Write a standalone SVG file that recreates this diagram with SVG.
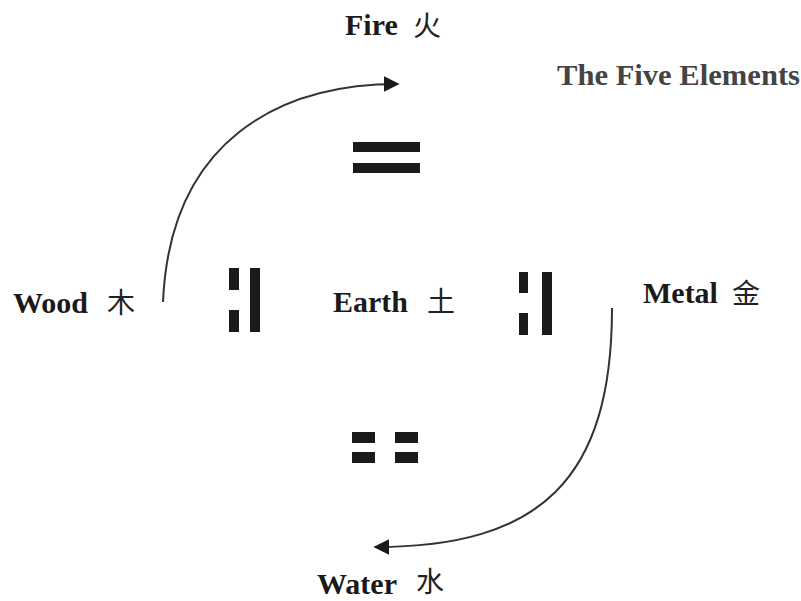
<svg xmlns="http://www.w3.org/2000/svg" width="801" height="601" viewBox="0 0 801 601">
<style>
.lbl{font-family:"Liberation Serif","Times New Roman",serif;font-weight:bold;font-size:30px;fill:#1a1a1a}
.cjk{font-family:"Noto Sans CJK SC","Noto Sans CJK JP",sans-serif;font-size:28px;fill:#222}
.title{font-family:"Liberation Serif","Times New Roman",serif;font-weight:bold;font-size:30px;fill:#444}
.bar{fill:#1a1a1a}
.conn{fill:none;stroke:#333;stroke-width:2}
</style>
<defs>
<marker id="arr" viewBox="0 0 10 10" refX="9" refY="5" markerWidth="8" markerHeight="8" markerUnits="strokeWidth" orient="auto">
<path d="M0,0 L10,5 L0,10 Z" fill="#1a1a1a"/>
</marker>
</defs>
<rect width="801" height="601" fill="#fff"/>
<text class="title" x="557" y="85" textLength="243" lengthAdjust="spacingAndGlyphs">The Five Elements</text>
<g id="connectors">
<path class="conn" d="M163,302 C170,140 280,84 398,84" marker-end="url(#arr)"/>
<path class="conn" d="M612,308 C612,480 540,547 375,547" marker-end="url(#arr)"/>
</g>
<g id="fire">
<text class="lbl" x="345" y="35">Fire</text>
<text class="cjk" x="413" y="36">火</text>
</g>
<g id="fire-trigram">
<rect class="bar" x="353" y="142" width="67" height="10"/>
<rect class="bar" x="353" y="163" width="67" height="10"/>
</g>
<g id="wood">
<text class="lbl" x="13" y="313">Wood</text>
<text class="cjk" x="107" y="313">木</text>
</g>
<g id="wood-trigram">
<rect class="bar" x="229" y="268" width="10" height="22"/>
<rect class="bar" x="229" y="310" width="10" height="22"/>
<rect class="bar" x="250" y="268" width="10" height="64"/>
</g>
<g id="earth">
<text class="lbl" x="333" y="312">Earth</text>
<text class="cjk" x="427" y="312">土</text>
</g>
<g id="metal-trigram">
<rect class="bar" x="519" y="272" width="9" height="21"/>
<rect class="bar" x="519" y="313" width="9" height="22"/>
<rect class="bar" x="542" y="272" width="10" height="63"/>
</g>
<g id="metal">
<text class="lbl" x="643" y="303">Metal</text>
<text class="cjk" x="732" y="304">金</text>
</g>
<g id="water-trigram">
<rect class="bar" x="352" y="432" width="23" height="11"/>
<rect class="bar" x="395" y="432" width="23" height="11"/>
<rect class="bar" x="352" y="452" width="23" height="11"/>
<rect class="bar" x="395" y="452" width="23" height="11"/>
</g>
<g id="water">
<text class="lbl" x="317" y="594">Water</text>
<text class="cjk" x="416" y="592">水</text>
</g>
</svg>
